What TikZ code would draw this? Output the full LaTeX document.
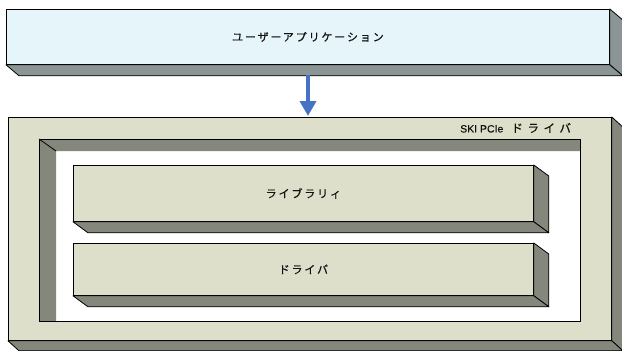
\documentclass[tikz,border=0pt]{standalone}
\usepackage{fontspec}
\newfontfamily\jp[LetterSpace=17,FakeBold=0.6]{Noto Sans CJK JP}
\newfontfamily\jpwide[LetterSpace=40,FakeBold=0.6]{Noto Sans CJK JP}
\newfontfamily\lat[FakeBold=0.4]{Liberation Sans}
\definecolor{userface}{HTML}{E6F5FA}
\definecolor{userside}{HTML}{8B9595}
\definecolor{boxface}{HTML}{DDDFCA}
\definecolor{boxside}{HTML}{84877B}
\definecolor{arrowblue}{HTML}{4472C4}
\definecolor{txt}{HTML}{111111}
\tikzset{
  face/.style={draw=black, line width=0.8pt, inner sep=0pt, anchor=north west,
    font=\jp\fontsize{11}{12}\selectfont, text=txt},
  sidepoly/.style={draw=black, line width=0.8pt, line join=round},
  flow/.style={draw=arrowblue, line width=4pt, -{Triangle[width=16pt,length=15pt]}, shorten >=1pt},
  lbl/.style={inner sep=0pt, font=\fontsize{11.5}{12}\selectfont, text=txt}
}
\usetikzlibrary{arrows.meta}
\newcommand{\boxsides}[4]{% name, dx, dy, side colour
  \filldraw[sidepoly, fill=#4] (#1.north east) -- ([shift={(#2,#3)}]#1.north east)
     -- ([shift={(#2,#3)}]#1.south east) -- (#1.south east) -- cycle;
  \filldraw[sidepoly, fill=#4] (#1.south west) -- ([shift={(#2,#3)}]#1.south west)
     -- ([shift={(#2,#3)}]#1.south east) -- (#1.south east) -- cycle;
}
\begin{document}
\begin{tikzpicture}[x=1pt, y=-1pt]
\useasboundingbox (0,0) rectangle (622,351);
% user application box
\node[face, fill=userface, minimum width=603pt, minimum height=55pt] (user) at (6,9) {ユーザーアプリケーション};
\boxsides{user}{13}{11}{userside}
% outer SKI PCIe driver box
\node[face, fill=boxface, minimum width=603pt, minimum height=223pt] (ski) at (8,117) {};
\boxsides{ski}{11}{10}{boxside}
\node[lbl, anchor=west] (skilabel) at (460,128) {{\lat\fontsize{10.5}{12}\selectfont SKI PCIe}\hspace{8pt}{\jpwide ドライバ}};
% recessed frame
\node[face, fill=white, minimum width=541pt, minimum height=182pt] (frame) at (39,139) {};
\fill[boxside] (frame.north west) -- (frame.north east) -- ([yshift=-12pt]frame.north east)
   -- ([shift={(17pt,-12pt)}]frame.north west) -- ([shift={(17pt,0pt)}]frame.south west)
   -- (frame.south west) -- cycle;
\draw[line width=0.8pt] (frame.north west) -- ([shift={(17pt,-12pt)}]frame.north west);
\draw[line width=0.8pt] (frame.north west) rectangle (frame.south east);
% library and driver boxes
\node[face, fill=boxface, minimum width=460pt, minimum height=56pt] (lib) at (73,165) {ライブラリィ};
\boxsides{lib}{15}{11}{boxside}
\node[face, fill=boxface, minimum width=460pt, minimum height=52pt] (drv) at (73,243) {ドライバ};
\boxsides{drv}{15}{11}{boxside}
% arrow
\coordinate (userbot) at (308,75);
\draw[flow] (userbot) -- (userbot |- ski.north);
\end{tikzpicture}
\end{document}
